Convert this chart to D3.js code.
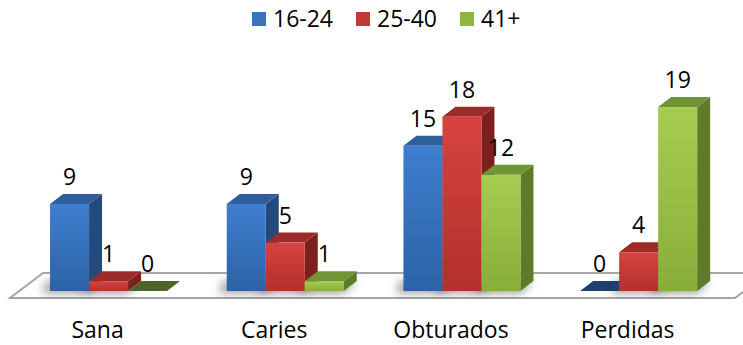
<!DOCTYPE html>
<html><head><meta charset="utf-8">
<script src="https://cdn.jsdelivr.net/npm/d3@7"></script>
<style>body{margin:0;background:#fff}svg{display:block}</style>
</head><body>
<svg id="c" width="743" height="345"></svg>
<script>
const categories = ["Sana", "Caries", "Obturados", "Perdidas"];
const seriesNames = ["16-24", "25-40", "41+"];
const v1624 = [9, 9, 15, 0];
const v2540 = [1, 5, 18, 4];
const v41 = [0, 1, 12, 19];
const seriesValues = [v1624, v2540, v41];
const palette = [
  {front0:"#3e7ecf", front1:"#2d62a6", side:"#234a7d", top:"#2f5e9c", zero:"#1f3f6e", legend:"#3a72bc"},
  {front0:"#d6433f", front1:"#b3302e", side:"#7e1f1d", top:"#9c2b29", zero:"#8a2422", legend:"#c23a37"},
  {front0:"#a6cc50", front1:"#88ae3a", side:"#5d7c2a", top:"#6f9536", zero:"#4f6427", legend:"#8db53f"}
];
const svg = d3.select("#c");
const font = "'Open Sans', sans-serif";
const fs = 23;
const defs = svg.append("defs");
palette.forEach((p,i)=>{
  const g = defs.append("linearGradient").attr("id","gf"+i).attr("x1",0).attr("x2",0).attr("y1",0).attr("y2",1);
  g.append("stop").attr("offset","0%").attr("stop-color",p.front0);
  g.append("stop").attr("offset","100%").attr("stop-color",p.front1);
});
defs.append("filter").attr("id","blur").attr("x","-50%").attr("y","-50%").attr("width","200%").attr("height","200%")
  .append("feGaussianBlur").attr("stdDeviation",5);

const dx = 13, dy = 10;
const y = d3.scaleLinear().domain([0, 20]).range([291, 291 - 193.6]);
const x0 = d3.scaleBand().domain(categories).range([20.2, 727]).paddingInner(0.3377).paddingOuter(0.1689);
const x1 = d3.scaleBand().domain(seriesNames).range([0, x0.bandwidth()]);

// floor
const fy0 = 298, fy1 = 273;
svg.append("path")
  .attr("d", `M10,${fy0} L735,${fy0} L768,${fy1} L43,${fy1} Z`)
  .attr("fill", "#fff").attr("stroke", "#a6a6a6").attr("stroke-width", 2);

// shadows
const shadowG = svg.append("g").attr("filter","url(#blur)");
categories.forEach((c,ci)=>{
  const gx = x0(c);
  seriesNames.forEach((s,si)=>{
    const v = seriesValues[si][ci];
    if (v <= 0) return;
    const bx = gx + x1(s);
    shadowG.append("path")
      .attr("d", `M${bx-8},${y(0)+2} L${bx+x1.bandwidth()},${y(0)+2} L${bx+x1.bandwidth()+dx},${y(0)-dy} L${bx+dx-16},${y(0)-dy}Z`)
      .attr("fill","#000").attr("opacity",0.4);
  });
});

// bars
const barsG = svg.append("g");
categories.forEach((c,ci)=>{
  const gx = x0(c);
  seriesNames.forEach((s,si)=>{
    const v = seriesValues[si][ci];
    const p = palette[si];
    const bx = gx + x1(s), bw = x1.bandwidth();
    const yt = y(v), yb = y(0);
    const g = barsG.append("g");
    if (v === 0) {
      g.append("path").attr("d", `M${bx},${yb} L${bx+bw},${yb} L${bx+bw+dx},${yb-dy} L${bx+dx},${yb-dy}Z`).attr("fill", p.zero);
      return;
    }
    g.append("path").attr("d", `M${bx+bw},${yt} L${bx+bw+dx},${yt-dy} L${bx+bw+dx},${yb-dy} L${bx+bw},${yb}Z`).attr("fill", p.side);
    g.append("path").attr("d", `M${bx},${yt} L${bx+dx},${yt-dy} L${bx+bw+dx},${yt-dy} L${bx+bw},${yt}Z`).attr("fill", p.top);
    g.append("rect").attr("x", bx).attr("y", yt).attr("width", bw).attr("height", yb - yt).attr("fill", `url(#gf${si})`);
  });
});

// data labels
const lblG = svg.append("g").attr("font-family", font).attr("font-size", fs).attr("fill", "#000").attr("text-anchor","middle");
categories.forEach((c,ci)=>{
  seriesNames.forEach((s,si)=>{
    const v = seriesValues[si][ci];
    lblG.append("text").attr("x", x0(c) + x1(s) + x1.bandwidth()/2).attr("y", y(v) - 19).text(v);
  });
});

// category labels
const xAxis = d3.axisBottom(x0).tickSize(0).tickPadding(0);
const ax = svg.append("g").attr("transform", "translate(-11,338)").call(xAxis);
ax.select(".domain").remove();
ax.selectAll("text").attr("font-family", font).attr("font-size", fs).attr("fill","#000").attr("dy","0").attr("y",0);

// legend
const legendX = [252, 356, 460];
const lg = svg.append("g");
seriesNames.forEach((s,i)=>{
  lg.append("rect").attr("x", legendX[i]).attr("y", 12).attr("width", 14).attr("height", 14).attr("fill", palette[i].legend);
  lg.append("text").attr("x", legendX[i] + 21).attr("y", 27).attr("font-family", font).attr("font-size", fs).text(s);
});
</script>
</body></html>
